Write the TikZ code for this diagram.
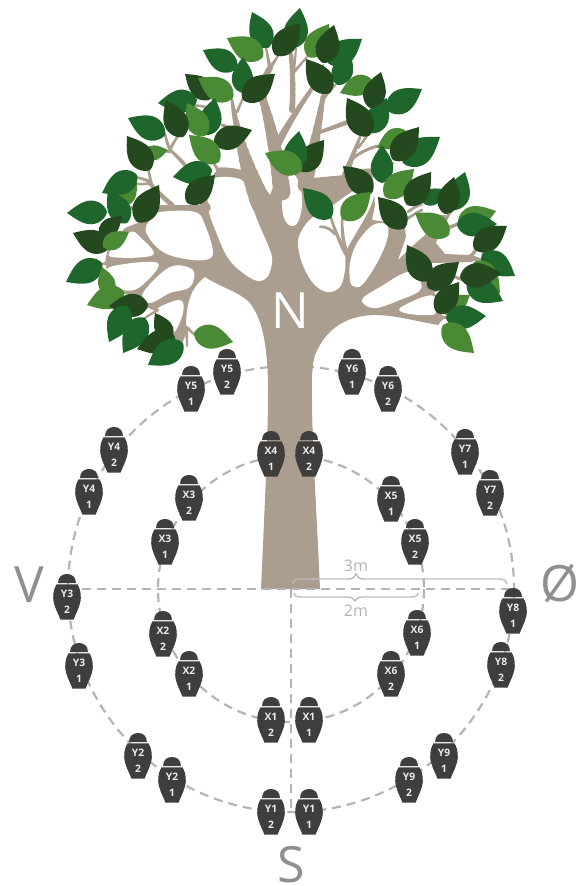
\documentclass[tikz,border=0pt]{standalone}
\usepackage{fontspec}
\setmainfont{Open Sans}
\definecolor{brn}{HTML}{AC9E8E}
\definecolor{dk}{HTML}{24491F}
\definecolor{md}{HTML}{1F662C}
\definecolor{lt}{HTML}{4A8A35}
\definecolor{urnc}{HTML}{403E3C}
\definecolor{dashc}{HTML}{B4B4B4}
\definecolor{compc}{HTML}{8F8F8F}
\newcommand\lf[5]{%
  \pgfmathsetmacro\ldx{(#4-#2)/100}\pgfmathsetmacro\ldy{(#5-#3)/100}%
  \fill[#1,shift={(#2,#3)},cm={\ldx,-\ldy,\ldy,\ldx,(0,0)}]
    (0,0) .. controls (4,18) and (25,33) .. (48,29) .. controls (68,25) and (86,10) .. (100,0)
    .. controls (86,-10) and (68,-25) .. (48,-29) .. controls (25,-33) and (4,-18) .. (0,0) -- cycle;}
\newcommand\br[8]{%
  \foreach \i in {1,...,10}{%
    \pgfmathsetmacro\ta{(\i-1)/10}\pgfmathsetmacro\tb{\i/10}%
    \pgfmathsetmacro\xa{(1-\ta)^2*#1+2*\ta*(1-\ta)*#3+\ta*\ta*#5}%
    \pgfmathsetmacro\ya{(1-\ta)^2*#2+2*\ta*(1-\ta)*#4+\ta*\ta*#6}%
    \pgfmathsetmacro\xb{(1-\tb)^2*#1+2*\tb*(1-\tb)*#3+\tb*\tb*#5}%
    \pgfmathsetmacro\yb{(1-\tb)^2*#2+2*\tb*(1-\tb)*#4+\tb*\tb*#6}%
    \pgfmathsetmacro\wd{#7+(#8-#7)*\tb}%
    \draw[brn,line width=\wd pt,line cap=round] (\xa,\ya) -- (\xb,\yb);}}
\newcommand\hole[1]{\fill[white] plot[smooth cycle,tension=0.6] coordinates {#1};}
\newcommand\urn[4]{%
  \begin{scope}[shift={(#1,#2)}]
    \fill[urnc] (-9,9.2) .. controls (-9,3) and (-5,0) .. (0,0) .. controls (5,0) and (9,3) .. (9,9.2) -- cycle;
    \fill[urnc] (-10.5,10.3) -- (10.5,10.3) .. controls (12,13) and (14,17) .. (13.8,24)
      .. controls (13.5,32) and (9,39) .. (6.5,45.7) -- (-6.5,45.7)
      .. controls (-9,39) and (-13.5,32) .. (-13.8,24) .. controls (-14,17) and (-12,13) .. (-10.5,10.3) -- cycle;
    \node[urntxt] (u#3a#4) at (0,20) {#3};
    \node[urntxt] (u#3b#4) at (0,36) {#4};
  \end{scope}}
\tikzset{
  urntxt/.style={inner sep=0pt,text=white!92!black,font=\fontsize{10.3}{11}\selectfont\bfseries},
  dashline/.style={dashc,line width=2.2pt,dash pattern=on 9pt off 6pt},
  bracel/.style={dashc!90!white,line width=1.4pt},
  comp/.style={inner sep=0pt,text=compc,font=\fontsize{50}{52}\selectfont},
  dist/.style={inner sep=0pt,text=dashc,font=\fontsize{16}{18}\selectfont}
}
\begin{document}
\begin{tikzpicture}[x=1pt,y=-1pt]
\useasboundingbox (0,0) rectangle (580,886);
\coordinate (c) at (291,589);
% distance circles and axes
\draw[dashline] (c) circle[radius=223];
\draw[dashline] (c) circle[radius=133];
% trunk and main crown
\fill[brn] (261,589) .. controls (265,500) and (268,440) .. (268,390) .. controls (268,345) and (262,316) .. (248,301)
 .. controls (235,290) and (222,288) .. (205,277) -- (205,240) -- (200,205) -- (215,172) -- (248,172) -- (262,184) -- (270,195) -- (276,180) -- (275,170)
 -- (300,170) -- (312,178) -- (345,175) -- (372,170) -- (375,205) -- (372,220) -- (387,222) -- (405,228) -- (406,237) -- (398,260) -- (408,250)
 -- (425,235) -- (436,215) -- (446,215) -- (436,243) -- (445,254) -- (470,255) -- (476,257) -- (472,262) -- (432,263) -- (427,285) -- (436,295) -- (439,310) -- (444,318) -- (438,325)
 .. controls (410,320) and (395,315) .. (373,315) .. controls (345,316) and (325,330) .. (315,355) .. controls (311,370) and (312,385) .. (312,400)
 .. controls (312,440) and (317,520) .. (320,589) -- cycle;
\fill[brn] (213,255) -- (207,205) -- (160,205) -- (140,222) -- (125,228) -- (108,247) -- (105,262) -- (108,275) -- (112,292) -- (130,295) -- (140,298) -- (145,306) -- (157,312) -- (172,338) -- (183,342) -- (186,327) .. controls (186,305) and (190,288) .. (205,277) -- cycle;
% holes
\hole{(214,178)(242,180)(250,200)(258,222)(270,250)(272,262)(268,276)(258,281)(243,273)(228,258)(216,232)(208,208)(209,190)}
\hole{(292,173)(300,185)(302,205)(298,222)(291,226)(284,218)(282,200)(286,183)}
\hole{(298,243)(302,263)(313,283)(327,292)(340,287)(345,270)(346,252)(352,240)(368,212)(374,195)(372,182)(352,192)(333,205)(312,218)(302,230)}
\hole{(350,280)(353,286)(362,285)(377,263)(387,240)(387,225)(373,225)(357,243)(350,263)}
\hole{(363,298)(380,287)(408,272)(421,283)(418,292)(400,300)(377,308)(365,305)}
\hole{(400,308)(423,297)(435,297)(436,313)(422,315)(405,313)}
\hole{(160,212)(195,212)(205,225)(213,252)(205,260)(180,258)(160,250)(146,232)(150,220)}
\hole{(130,232)(113,247)(112,257)(153,255)(140,237)}
\hole{(110,267)(158,263)(140,287)(123,290)(112,280)}
\hole{(143,293)(170,267)(193,270)(190,287)(170,293)(150,303)}
\hole{(157,309)(180,300)(183,313)(173,333)(163,318)}
% limbs and twigs
\br{262}{205}{245}{165}{238}{130}{22}{7}
\br{238}{130}{234}{115}{232}{100}{7}{3}
\br{237}{112}{240}{105}{243}{98}{3}{2}
\br{250}{178}{235}{170}{218}{170}{9}{5}
\br{240}{140}{232}{128}{222}{125}{4}{3}
\br{207}{208}{200}{195}{190}{195}{8}{5}
\br{282}{192}{275}{140}{263}{100}{18}{8}
\br{263}{100}{261}{82}{270}{68}{8}{6}
\br{270}{68}{268}{58}{266}{48}{4}{2}
\br{270}{68}{274}{62}{278}{56}{4}{2}
\br{277}{145}{290}{120}{313}{87}{8}{4}
\br{313}{87}{319}{76}{323}{65}{4}{2}
\br{292}{110}{294}{85}{291}{55}{6}{4.5}
\br{293}{78}{295}{62}{296}{48}{2.5}{2}
\br{294}{72}{300}{65}{307}{57}{3}{2}
\br{305}{185}{314}{150}{323}{97}{16}{5}
\br{323}{97}{324}{88}{325}{78}{3.5}{2.5}
\br{323}{100}{328}{92}{335}{85}{3}{2.5}
\br{317}{133}{332}{128}{348}{122}{3.5}{4.5}
\br{345}{176}{351}{160}{360}{137}{7}{3}
\br{351}{160}{362}{150}{378}{146}{3}{3}
\br{358}{148}{363}{142}{368}{134}{2.5}{2.5}
\br{345}{175}{368}{168}{392}{172}{6}{3}
\br{373}{171}{383}{165}{393}{163}{3}{2.5}
\br{347}{255}{342}{240}{342}{219}{4.5}{2.5}
\br{347}{255}{338}{240}{331}{218}{4.5}{2.5}
\br{335}{234}{328}{226}{320}{227}{3}{2.5}
\br{408}{212}{414}{207}{422}{204}{3}{2.5}
\br{404}{221}{414}{214}{422}{210}{3}{2.5}
\br{443}{225}{445}{220}{453}{208}{4}{2.5}
\br{443}{228}{452}{228}{460}{222}{4}{3}
\br{470}{258}{480}{259}{486}{263}{5}{3}
\br{470}{257}{474}{253}{478}{247}{4}{3}
\br{445}{270}{452}{277}{464}{280}{3}{3}
\br{437}{290}{430}{292}{423}{295}{3}{3}
\br{437}{320}{442}{316}{449}{318}{4}{3}
% left side twigs
\br{172}{205}{160}{195}{147}{180}{5}{3.5}
\br{152}{186}{150}{178}{148}{168}{3}{2.5}
\br{150}{182}{142}{178}{134}{177}{3}{2.5}
\br{150}{184}{142}{184}{134}{184}{2.5}{2.5}
\br{197}{180}{182}{160}{170}{150}{4.5}{3}
\br{170}{150}{167}{143}{165}{134}{3}{2.5}
\br{170}{150}{173}{143}{178}{136}{3}{2.5}
\br{170}{152}{160}{150}{150}{150}{2.5}{2.5}
\br{217}{168}{214}{165}{213}{160}{3}{2}
\br{190}{107}{198}{104}{208}{108}{2.5}{2.5}
\br{140}{222}{138}{215}{138}{206}{3.5}{2.5}
\br{145}{208}{135}{208}{126}{208}{3.5}{3}
\br{110}{262}{105}{264}{100}{264}{3.5}{2}
\br{186}{327}{184}{335}{182}{340}{4}{2.5}
\br{186}{327}{187}{336}{187}{346}{3.5}{2}
\br{188}{328}{190}{331}{195}{335}{3}{2}
\br{152}{306}{140}{309}{128}{310}{2.5}{2}
\br{158}{310}{147}{316}{135}{325}{2.5}{2}
% leaves
\lf{md}{268}{48}{252}{12}
\lf{md}{237}{68}{203}{50}
\lf{lt}{263}{57}{227}{38}
\lf{md}{242}{93}{243}{57}
\lf{dk}{243}{100}{275}{74}
\lf{dk}{213}{98}{185}{74}
\lf{lt}{233}{98}{198}{78}
\lf{md}{197}{100}{158}{103}
\lf{md}{207}{135}{215}{98}
\lf{lt}{205}{136}{187}{103}
\lf{dk}{183}{137}{166}{100}
\lf{dk}{214}{143}{252}{130}
\lf{lt}{219}{162}{189}{135}
\lf{md}{165}{135}{128}{118}
\lf{lt}{143}{155}{168}{150}
\lf{dk}{150}{170}{127}{136}
\lf{md}{212}{170}{173}{177}
\lf{dk}{187}{203}{215}{175}
\lf{lt}{120}{205}{137}{182}
\lf{md}{137}{175}{102}{193}
\lf{md}{127}{223}{108}{190}
\lf{dk}{137}{222}{159}{185}
\lf{md}{107}{212}{67}{213}
\lf{dk}{100}{236}{122}{216}
\lf{dk}{109}{248}{73}{233}
\lf{lt}{103}{247}{129}{232}
\lf{md}{102}{263}{66}{282}
\lf{lt}{110}{295}{102}{267}
\lf{lt}{124}{292}{87}{305}
\lf{dk}{148}{305}{109}{306}
\lf{md}{127}{306}{109}{342}
\lf{md}{145}{318}{123}{353}
\lf{dk}{170}{340}{155}{313}
\lf{dk}{175}{337}{137}{349}
\lf{md}{183}{343}{148}{365}
\lf{lt}{194}{333}{233}{342}
% top right leaves
\lf{md}{293}{48}{300}{8}
\lf{dk}{275}{55}{300}{23}
\lf{lt}{308}{57}{329}{24}
\lf{md}{328}{63}{362}{39}
\lf{dk}{323}{63}{334}{25}
\lf{md}{337}{85}{350}{52}
\lf{dk}{330}{93}{306}{59}
\lf{lt}{372}{80}{340}{93}
\lf{md}{387}{110}{422}{89}
\lf{md}{370}{133}{387}{98}
\lf{dk}{370}{108}{381}{72}
\lf{dk}{369}{136}{347}{98}
\lf{lt}{407}{132}{377}{148}
\lf{md}{403}{163}{440}{137}
\lf{dk}{393}{160}{419}{127}
\lf{md}{382}{183}{382}{145}
\lf{lt}{385}{197}{414}{169}
\lf{dk}{372}{193}{343}{166}
\lf{md}{422}{202}{447}{190}
\lf{md}{453}{210}{465}{172}
\lf{dk}{407}{205}{431}{172}
\lf{dk}{445}{214}{454}{177}
% centre
\lf{dk}{300}{171}{324}{140}
\lf{md}{293}{170}{299}{131}
\lf{lt}{302}{170}{265}{153}
\lf{md}{331}{218}{303}{188}
\lf{lt}{342}{219}{371}{192}
\lf{dk}{405}{228}{378}{197}
\lf{lt}{449}{235}{415}{213}
\lf{dk}{428}{281}{407}{245}
% right
\lf{lt}{458}{223}{496}{211}
\lf{md}{457}{225}{497}{224}
\lf{dk}{474}{249}{507}{226}
\lf{md}{482}{254}{515}{276}
\lf{lt}{474}{262}{500}{293}
\lf{md}{467}{283}{503}{301}
\lf{dk}{460}{277}{501}{273}
\lf{dk}{428}{288}{459}{262}
\lf{lt}{443}{313}{470}{295}
\lf{dk}{437}{313}{459}{282}
\lf{md}{446}{318}{486}{316}
\lf{lt}{443}{325}{474}{353}
% axes
\draw[dashline] (67,589) -- (c);
\draw[dashline] (c) -- (513,589);
\draw[dashline] (c) -- (291,812);
% braces
\draw[bracel] (293,584) .. controls (293,580) and (296,579) .. (300,579) -- (348,579) .. controls (353,579) and (355,577) .. (356,574)
  .. controls (357,577) and (359,579) .. (364,579) -- (499,579) .. controls (503,579) and (506,580) .. (507,584);
\draw[bracel] (294,593) .. controls (294,596) and (297,597) .. (301,597) -- (347,597) .. controls (352,597) and (354,599) .. (355,601)
  .. controls (356,599) and (358,597) .. (363,597) -- (411,597) .. controls (415,597) and (418,596) .. (418,593);
\node[dist] (d3) at (356,566) {3m};
\node[dist] (d2) at (356,611) {2m};
% compass
\node[comp,text=white] (n) at (290,311) {N};
\node[comp] (v) at (29,585) {V};
\node[comp] (o) at (560,584) {Ø};
\node[comp] (s) at (291,865) {S};
% urns
\urn{227}{349}{Y5}{2}
\urn{191}{366}{Y5}{1}
\urn{114}{427}{Y4}{2}
\urn{89}{469}{Y4}{1}
\urn{189}{475}{X3}{2}
\urn{165}{519}{X3}{1}
\urn{271}{431}{X4}{1}
\urn{309}{431}{X4}{2}
\urn{352}{349}{Y6}{1}
\urn{388}{366}{Y6}{2}
\urn{465}{429}{Y7}{1}
\urn{490}{470}{Y7}{2}
\urn{391}{476}{X5}{1}
\urn{415}{519}{X5}{2}
\urn{67}{574}{Y3}{2}
\urn{79}{643}{Y3}{1}
\urn{138}{733}{Y2}{2}
\urn{172}{757}{Y2}{1}
\urn{271}{789}{Y1}{2}
\urn{309}{789}{Y1}{1}
\urn{271}{697}{X1}{2}
\urn{309}{697}{X1}{1}
\urn{163}{611}{X2}{2}
\urn{189}{651}{X2}{1}
\urn{417}{610}{X6}{1}
\urn{391}{651}{X6}{2}
\urn{513}{588}{Y8}{1}
\urn{501}{642}{Y8}{2}
\urn{444}{733}{Y9}{1}
\urn{409}{757}{Y9}{2}
\end{tikzpicture}
\end{document}
